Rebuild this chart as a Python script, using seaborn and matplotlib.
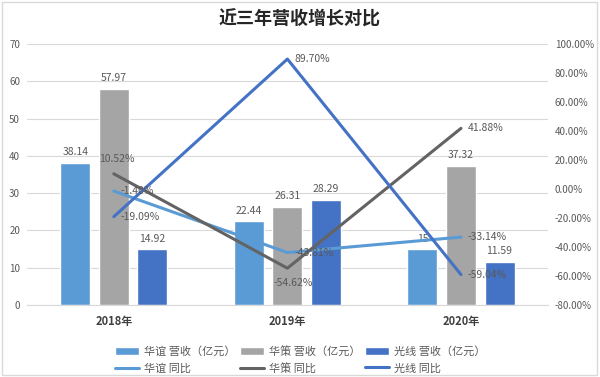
import numpy as np
import pandas as pd
import matplotlib
matplotlib.use("Agg")
import matplotlib.pyplot as plt
from matplotlib.patches import Patch, Rectangle
from matplotlib.lines import Line2D
import seaborn as sns

# data
years = ["2018年", "2019年", "2020年"]
companies = ["华谊", "华策", "光线"]
revenue_huayi = [38.14, 22.44, 15]
revenue_huace = [57.97, 26.31, 37.32]
revenue_guangxian = [14.92, 28.29, 11.59]
yoy_huayi = [-1.40, -43.81, -33.14]
yoy_huace = [10.52, -54.62, 41.88]
yoy_guangxian = [-19.09, 89.70, -59.04]

bar_colors = ["#5B9BD5", "#A5A5A5", "#4472C4"]
line_colors = ["#5B9BD5", "#636363", "#4472C4"]
# where each yoy label sits relative to its point
label_pos = {
    "华谊": ["right", "right", "right"],
    "华策": ["above", "below", "right"],
    "光线": ["right", "right", "right"],
}

sns.set_style("white")
plt.rcParams["font.family"] = ["Noto Sans CJK SC", "DejaVu Sans"]

rev = pd.DataFrame({
    "year": years * 3,
    "company": np.repeat(companies, len(years)),
    "revenue": revenue_huayi + revenue_huace + revenue_guangxian,
})
yoy = pd.DataFrame({
    "x": list(range(len(years))) * 3,
    "company": np.repeat(companies, len(years)),
    "yoy": yoy_huayi + yoy_huace + yoy_guangxian,
})

fig = plt.figure(figsize=(6, 3.77), dpi=100)
ax = fig.add_axes([0.045, 0.191, 0.868, 0.692])

sns.barplot(data=rev, x="year", y="revenue", hue="company", order=years,
            hue_order=companies, palette=bar_colors, width=0.666, gap=0.22,
            saturation=1, legend=False, ax=ax)

for cont in ax.containers:
    ax.bar_label(cont, labels=[f"{b.get_height():g}" for b in cont],
                 padding=4, fontsize=7.5, color="#595959")

ax.set_ylim(0, 70)
ax.set_yticks(range(0, 71, 10))
ax.set_xlim(-0.5, 2.5)
ax.set_xlabel("")
ax.set_ylabel("")
ax.grid(axis="y", color="#D9D9D9", linewidth=0.8)
ax.set_axisbelow(True)
for s in ["top", "right", "left"]:
    ax.spines[s].set_visible(False)
ax.spines["bottom"].set_color("#D9D9D9")
ax.tick_params(axis="y", length=0, labelsize=7, labelcolor="#595959", pad=5)
ax.tick_params(axis="x", length=0, labelsize=8, labelcolor="#404040", pad=7)
for t in ax.get_xticklabels():
    t.set_fontweight("bold")

ax2 = ax.twinx()
sns.lineplot(data=yoy, x="x", y="yoy", hue="company", hue_order=companies,
             palette=line_colors, linewidth=2.2, sort=False, legend=False,
             ax=ax2)
ax2.set_ylim(-80, 100)
ax2.set_yticks(range(-80, 101, 20))
ax2.set_yticklabels([f"{v:.2f}%" for v in range(-80, 101, 20)])
ax2.set_xlim(-0.5, 2.5)
ax2.set_ylabel("")
for s in ax2.spines.values():
    s.set_visible(False)
ax2.tick_params(axis="y", length=0, labelsize=7, labelcolor="#595959", pad=5)

offsets = {"right": ((5, 0), "left", "center"),
           "above": ((2, 7), "center", "bottom"),
           "below": ((4, -7), "center", "top")}
for comp, vals in zip(companies, [yoy_huayi, yoy_huace, yoy_guangxian]):
    for i, v in enumerate(vals):
        off, ha, va = offsets[label_pos[comp][i]]
        ax2.annotate(f"{v:.2f}%", (i, v), xytext=off, textcoords="offset points",
                     ha=ha, va=va, fontsize=7.5, color="#595959")

fig.suptitle("近三年营收增长对比", x=0.5, y=0.975, fontsize=13,
             fontweight="bold", color="#262626")

handles = []
for comp, bc, lc in zip(companies, bar_colors, line_colors):
    handles.append(Patch(facecolor=bc, label=f"{comp} 营收（亿元）"))
    handles.append(Line2D([], [], color=lc, linewidth=2.2, label=f"{comp} 同比"))
fig.legend(handles=handles, ncol=3, loc="center", bbox_to_anchor=(0.5, 0.045),
           frameon=False, fontsize=8, labelcolor="#595959", handlelength=2.2,
           handleheight=0.8, columnspacing=0.4, handletextpad=0.4,
           labelspacing=0.55)

fig.patches.append(Rectangle((0.003, 0.004), 0.992, 0.992, transform=fig.transFigure,
                             fill=False, edgecolor="#D9D9D9", linewidth=1))

fig.savefig("out.png", dpi=100)
